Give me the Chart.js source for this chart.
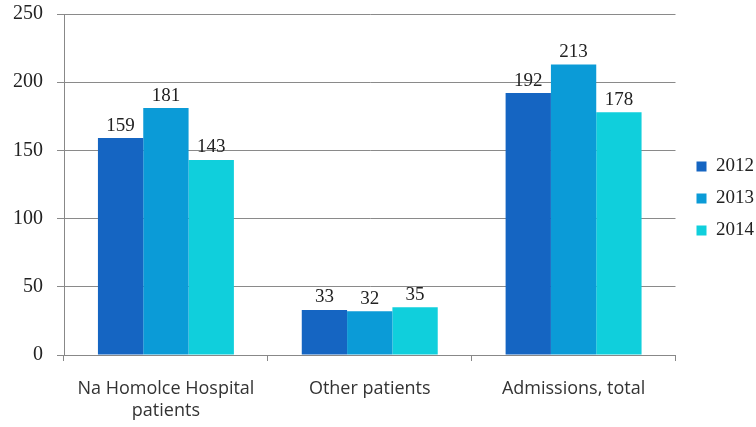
<!DOCTYPE html>
<html lang="en">
<head>
<meta charset="UTF-8">
<title>Admissions</title>
<script src="https://cdn.jsdelivr.net/npm/chart.js"></script>
<style>
  html, body { margin: 0; padding: 0; background: #fff; }
  .wrap { width: 756px; height: 427px; position: relative; }
</style>
</head>
<body>
<div class="wrap"><canvas id="graphe"></canvas></div>
<script>
// categories and values
const categories = [['Na Homolce Hospital', 'patients'], 'Other patients', 'Admissions, total'];
const years = ['2012', '2013', '2014'];
const values2012 = [159, 33, 192];
const values2013 = [181, 32, 213];
const values2014 = [143, 35, 178];
const yTicks = [0, 50, 100, 150, 200, 250];

const couleurs = ['#1565c2', '#0b9bd7', '#10cfdc'];
const serif = '"Liberation Serif", "DejaVu Serif", serif';

// small plugin that writes the value over each bar
const valeursPlugin = {
  id: 'valeurs',
  afterDatasetsDraw(chart) {
    const ctx = chart.ctx;
    ctx.save();
    ctx.fillStyle = '#222';
    ctx.font = '19px ' + serif;
    ctx.textAlign = 'center';
    ctx.textBaseline = 'bottom';
    chart.data.datasets.forEach((ds, i) => {
      chart.getDatasetMeta(i).data.forEach((bar, j) => {
        ctx.fillText(ds.data[j], bar.x, bar.y - 3);
      });
    });
    ctx.restore();
  }
};

// legend sits a bit higher than the centre in the original
const legendeHaut = {
  id: 'legendeHaut',
  afterLayout(chart) {
    if (chart.legend) {
      chart.legend.top -= 15;
      chart.legend.bottom -= 15;
      chart.legend.left += 8;
      chart.legend.right += 8;
    }
  }
};

new Chart(document.getElementById('graphe').getContext('2d'), {
  type: 'bar',
  data: {
    labels: categories,
    datasets: [
      { label: years[0], data: values2012, backgroundColor: couleurs[0] },
      { label: years[1], data: values2013, backgroundColor: couleurs[1] },
      { label: years[2], data: values2014, backgroundColor: couleurs[2] }
    ]
  },
  options: {
    responsive: true,
    maintainAspectRatio: false,
    animation: false,
    layout: { padding: { top: 0, right: 0, left: 0, bottom: 0 } },
    datasets: { bar: { categoryPercentage: 0.667, barPercentage: 1 } },
    plugins: {
      tooltip: { enabled: false },
      legend: {
        position: 'right',
        labels: {
          boxWidth: 10,
          boxHeight: 10,
          padding: 13,
          color: '#222',
          font: { family: serif, size: 19 }
        }
      }
    },
    scales: {
      x: {
        grid: { drawOnChartArea: false, color: '#888', tickLength: 6 },
        border: { color: '#888' },
        ticks: { color: '#333', font: { family: '"Open Sans", sans-serif', size: 18 }, padding: 17 },
        afterFit(scale) { scale.height = 72; }
      },
      y: {
        min: 0,
        max: 250,
        afterBuildTicks(scale) { scale.ticks = yTicks.map(v => ({ value: v })); },
        grid: { color: '#8a8a8a', tickLength: 7 },
        border: { color: '#888' },
        ticks: { color: '#222', font: { family: serif, size: 20 }, padding: 14 },
        afterFit(scale) {
          scale.width = 64;
          scale.paddingTop = 14;
        }
      }
    }
  },
  plugins: [valeursPlugin, legendeHaut]
});
</script>
</body>
</html>
